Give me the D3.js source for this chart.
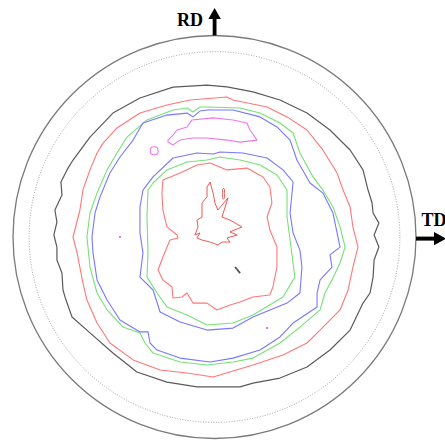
<!DOCTYPE html>
<html><head><meta charset="utf-8">
<script src="https://cdn.jsdelivr.net/npm/d3@7"></script>
<style>html,body{margin:0;padding:0;background:#fff;overflow:hidden}</style>
</head><body><svg id="c" width="445" height="443"></svg>
<script>
// Pole-figure contour data, units: % of projection radius (x = TD, y = RD)
const axisLabels = ["RD", "TD"];
const outerRadius = 100;
const innerRefRadius = 92;

const level1 = [[-3.7,75.4],[6.2,74.5],[19.1,72.0],[32.5,68.0],[45.9,61.5],[57.3,53.1],[67.3,43.2],[73.7,33.3],[76.2,23.3],[78.2,16.9],[78.7,11.9],[81.6,6.9],[79.2,1.0],[81.6,-5.0],[79.2,-11.4],[78.7,-19.9],[77.2,-27.8],[73.7,-32.8],[67.3,-46.2],[57.3,-56.1],[45.9,-64.5],[32.5,-70.0],[19.1,-72.5],[12.7,-74.4],[-8.7,-74.4],[-23.6,-72.0],[-38.5,-67.0],[-50.4,-57.6],[-61.8,-47.6],[-70.7,-39.7],[-73.7,-31.3],[-75.2,-26.3],[-75.7,-17.9],[-78.2,-11.4],[-78.2,-5.0],[-79.7,1.0],[-78.2,7.4],[-79.2,13.4],[-75.7,20.8],[-76.2,27.3],[-73.2,33.3],[-70.2,38.2],[-61.8,49.6],[-50.4,61.5],[-37.0,69.0],[-20.6,74.4]];

const level2Outer = [[6.2,69.5],[9.2,68.0],[26.1,64.5],[36.0,59.6],[45.9,53.1],[53.8,43.2],[60.8,31.8],[63.8,23.3],[67.3,14.9],[68.7,5.0],[71.2,-5.0],[68.7,-14.9],[66.3,-26.3],[62.3,-36.2],[52.4,-46.2],[45.9,-52.6],[34.0,-58.6],[19.1,-63.5],[-0.7,-69.5],[-13.6,-67.5],[-27.0,-66.0],[-40.4,-61.0],[-51.9,-52.6],[-58.3,-42.7],[-63.3,-31.3],[-65.3,-22.8],[-68.2,-7.9],[-70.2,0],[-66.8,13.4],[-65.3,23.3],[-61.8,33.3],[-58.3,41.7],[-55.3,46.6],[-48.4,54.1],[-37.0,61.5],[-23.6,65.5],[-12.2,68.0]];

const level3Outer = [[-3.7,64.5],[12.7,64.0],[22.6,61.5],[32.5,56.6],[39.0,51.6],[42.4,41.7],[48.9,29.8],[53.8,23.3],[58.8,14.9],[62.3,5.0],[64.8,-5.0],[62.3,-12.9],[58.3,-21.3],[54.8,-27.8],[52.4,-36.2],[42.4,-44.7],[32.5,-52.6],[19.1,-60.1],[9.2,-62.0],[-3.7,-63.5],[-17.1,-62.0],[-30.5,-57.6],[-34.5,-52.6],[-37.0,-47.6],[-45.4,-44.7],[-53.3,-36.2],[-58.3,-27.8],[-61.8,-14.9],[-63.3,0],[-61.8,11.9],[-58.3,21.8],[-53.3,33.3],[-48.4,41.7],[-43.4,49.6],[-33.5,58.1],[-20.6,63.0],[-13.6,64.0],[-10.7,62.0],[-7.2,64.5]];

const level4Outer = [[-3.7,63.0],[9.2,63.0],[22.6,59.6],[31.0,54.6],[37.5,48.1],[40.9,38.2],[47.4,26.8],[53.8,21.8],[58.8,11.9],[62.3,-5.0],[57.3,-8.9],[58.3,-14.9],[52.4,-21.3],[50.9,-27.8],[50.9,-34.7],[39.0,-42.7],[32.5,-49.6],[22.6,-56.1],[9.2,-60.1],[-2.2,-62.0],[-17.1,-60.1],[-28.5,-56.1],[-32.0,-52.6],[-33.0,-47.1],[-37.0,-47.1],[-46.9,-41.2],[-53.3,-31.3],[-58.3,-21.3],[-60.3,-7.9],[-60.8,0],[-59.3,11.9],[-56.8,19.9],[-51.9,31.8],[-46.9,39.7],[-40.4,48.1],[-35.5,56.6],[-23.6,60.5],[-13.6,61.5],[-10.7,59.6],[-7.2,62.5]];

const level5Band = [[-23.1,48.1],[-20.6,50.6],[-18.6,53.1],[-13.6,54.6],[-11.2,58.1],[-0.7,59.1],[9.2,58.1],[16.1,56.6],[17.6,53.1],[21.1,48.1],[12.7,47.1],[6.2,48.1],[-3.7,49.1],[-10.7,49.1],[-17.1,48.1],[-20.6,45.7],[-23.1,47.1]];
const level5Islet = [[-31.5,44.4],[-28.5,44.4],[-28.3,41.2],[-31.5,41.2]];
const level5Dots = [[-46.9,0],[26.1,-45.2]];

const level4Inner = [[-0.7,41.2],[2.7,42.2],[14.1,41.7],[26.1,39.2],[34.0,33.3],[39.0,27.3],[37.5,11.9],[39.0,2.0],[42.4,-6.5],[43.4,-14.9],[42.4,-27.8],[36.0,-32.8],[19.1,-39.7],[9.2,-45.2],[-3.7,-46.2],[-17.1,-42.2],[-27.0,-37.2],[-30.5,-26.3],[-37.0,-19.9],[-35.5,-7.9],[-37.0,2.0],[-37.0,14.9],[-35.5,23.3],[-30.5,29.8],[-20.6,39.2],[-8.7,41.7]];

const level3Inner = [[-3.7,38.2],[2.7,39.7],[12.7,38.2],[22.6,35.7],[31.0,30.8],[36.0,23.3],[36.0,9.9],[37.5,-1.5],[39.9,-19.9],[34.0,-29.8],[19.1,-38.7],[9.2,-42.7],[-3.7,-43.7],[-13.6,-38.7],[-23.6,-34.7],[-28.5,-27.8],[-33.5,-19.9],[-33.0,-7.9],[-33.5,9.9],[-33.0,23.3],[-30.5,26.8],[-23.6,33.3],[-13.6,37.2]];

const level2Inner = [[-26.1,21.8],[-25.6,28.3],[-17.1,31.8],[-8.7,35.7],[-2.2,36.7],[6.2,33.3],[16.1,34.2],[24.1,29.8],[27.5,24.8],[28.5,16.9],[26.1,9.9],[27.5,3.5],[31.0,-5.0],[31.0,-14.9],[29.0,-24.8],[27.5,-28.8],[19.1,-29.8],[12.7,-32.3],[7.7,-33.7],[1.2,-36.2],[-3.7,-32.8],[-10.7,-32.8],[-13.6,-27.8],[-16.1,-29.8],[-20.6,-30.3],[-21.1,-24.8],[-25.6,-21.3],[-28.0,-16.4],[-25.6,-9.9],[-22.1,-1.5],[-18.1,-0.5],[-18.6,1.0],[-23.6,5.0],[-25.6,13.4]];

const level0Core = [[-2.2,27.3],[-0.7,21.8],[0.2,16.9],[1.7,13.4],[6.7,19.4],[3.7,9.9],[7.7,8.4],[13.6,5.0],[7.7,2.5],[11.2,1.0],[6.2,-0.5],[7.7,-2.5],[3.7,-2.5],[1.7,-4.0],[-2.2,-2.5],[-6.2,-1.5],[-8.7,-0.5],[-7.2,2.0],[-9.7,1.0],[-8.2,5.0],[-8.7,8.4],[-6.2,9.9],[-6.2,16.9],[-3.7,19.9],[-3.7,24.8]];
const level0Loop = [[4.1,23.8],[4.9,23.8],[5.0,21.6],[4.9,19.2],[4.1,19.2],[4.0,21.6]];
const minMarker = [[10.2,-14.9],[12.7,-17.9]];

const svg = d3.select("#c");
const x = d3.scaleLinear().domain([-100, 100]).range([13, 416]);
const y = d3.scaleLinear().domain([-100, 100]).range([438.5, 35.5]);
const r = d3.scaleLinear().domain([0, 100]).range([0, 201.5]);
const cx = x(0), cy = y(0);

svg.append("circle").attr("cx", cx).attr("cy", cy).attr("r", r(outerRadius))
  .attr("fill", "none").attr("stroke", "#7a7a7a").attr("stroke-width", 1.3);
svg.append("circle").attr("cx", cx).attr("cy", cy).attr("r", r(innerRefRadius))
  .attr("fill", "none").attr("stroke", "#8a8a8a").attr("stroke-width", 0.8).attr("stroke-dasharray", "1,1.6");

const closed = d3.line().x(d => x(d[0])).y(d => y(d[1])).curve(d3.curveLinearClosed);
const smooth = d3.line().x(d => x(d[0])).y(d => y(d[1])).curve(d3.curveCardinalClosed);

const contours = [
  {pts: level1, c: "#5a5a5a", w: 1.2, g: closed},
  {pts: level2Outer, c: "#ff7777", w: 1.1, g: closed},
  {pts: level3Outer, c: "#77e077", w: 1.1, g: closed},
  {pts: level4Outer, c: "#7777ff", w: 1.1, g: closed},
  {pts: level5Band, c: "#ee77ee", w: 1.1, g: closed},
  {pts: level5Islet, c: "#ee77ee", w: 1.1, g: smooth},
  {pts: level4Inner, c: "#7777ff", w: 1.1, g: closed},
  {pts: level3Inner, c: "#77e077", w: 1.1, g: closed},
  {pts: level2Inner, c: "#ff7777", w: 1.1, g: closed},
  {pts: level0Core, c: "#ee4444", w: 0.9, g: closed},
  {pts: level0Loop, c: "#ee4444", w: 0.9, g: smooth}
];
svg.selectAll("path.ct").data(contours).join("path").attr("class", "ct")
  .attr("d", d => d.g(d.pts)).attr("fill", "none")
  .attr("stroke", d => d.c).attr("stroke-width", d => d.w).attr("stroke-linejoin", "round");

svg.selectAll("circle.dot").data(level5Dots).join("circle").attr("class", "dot")
  .attr("cx", d => x(d[0])).attr("cy", d => y(d[1])).attr("r", 1).attr("fill", "#e040e0");

svg.append("path").attr("d", d3.line().x(d => x(d[0])).y(d => y(d[1]))(minMarker))
  .attr("stroke", "#555").attr("stroke-width", 1.8).attr("fill", "none");

// Direction arrows
const topY = y(outerRadius), rightX = x(outerRadius);
svg.append("rect").attr("x", cx - 1.8).attr("y", 17).attr("width", 3.8).attr("height", topY - 17).attr("fill", "#000");
svg.append("path").attr("d", `M${cx + 0.1},8 L${cx + 6.3},19 L${cx - 6.1},19 Z`).attr("fill", "#000");
svg.append("text").attr("x", 190).attr("y", 25.5).attr("text-anchor", "middle")
  .attr("font-family", "Liberation Serif, Times New Roman, serif").attr("font-weight", "bold")
  .attr("font-size", 18).text(axisLabels[0]);

svg.append("rect").attr("x", rightX).attr("y", 236.6).attr("width", 20).attr("height", 4).attr("fill", "#000");
svg.append("path").attr("d", `M434,232 L446,238.6 L434,245.2 Z`).attr("fill", "#000");
svg.append("text").attr("x", 421.5).attr("y", 226).attr("text-anchor", "start")
  .attr("font-family", "Liberation Serif, Times New Roman, serif").attr("font-weight", "bold")
  .attr("font-size", 18).text(axisLabels[1]);
</script></body></html>
